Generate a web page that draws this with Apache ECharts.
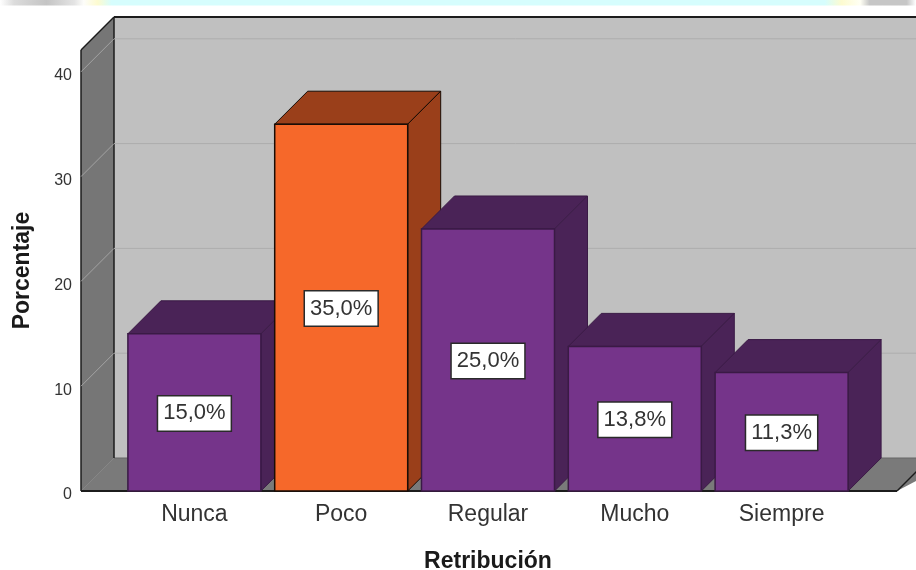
<!DOCTYPE html>
<html>
<head>
<meta charset="utf-8">
<style>html,body{margin:0;padding:0;background:#fff}#chart{width:916px;height:570px}</style>
<script src="https://cdn.jsdelivr.net/npm/echarts@6/dist/echarts.min.js"></script>
</head>
<body>
<div id="chart"></div>
<script>
// Survey result: share of answers per level of "Retribución"
const categories = ['Nunca', 'Poco', 'Regular', 'Mucho', 'Siempre'];
const percentages = [15.0, 35.0, 25.0, 13.8, 11.3];
const yTicks = [0, 10, 20, 30, 40];
const faceColors = ['#75348a', '#f6682a', '#75348a', '#75348a', '#75348a'];
const shadeColors = ['#4a2357', '#9a3f1a', '#4a2357', '#4a2357', '#4a2357'];
const edgeColors = ['#3a1a45', '#1a0d06', '#3a1a45', '#3a1a45', '#3a1a45'];

// Pseudo-3D box depth and plot frame, in pixels
const DEPTH = 33;
const GRID = { left: 121, right: 61, top: 50, bottom: 79, outerBoundsMode: 'none' };
const WALL_X = 81;
const RIGHT_X = 897;
const FONT = '"Liberation Sans", Arial, sans-serif';

const chart = echarts.init(document.getElementById('chart'), null, { renderer: 'canvas' });

function poly(points, fill, stroke, lineWidth) {
  return {
    type: 'polygon',
    shape: { points },
    style: { fill, stroke: stroke || 'none', lineWidth: lineWidth || 0, lineJoin: 'miter' }
  };
}
function line(x1, y1, x2, y2, stroke, lineWidth) {
  return {
    type: 'line',
    shape: { x1, y1, x2, y2 },
    style: { stroke, lineWidth, fill: 'none' }
  };
}

// Horizontal fade used by the page banner along the top edge
function hFade(x, y, width, height, stops) {
  return {
    type: 'rect',
    shape: { x, y, width, height },
    silent: true,
    style: {
      fill: new echarts.graphic.LinearGradient(0, 0, 1, 0, stops.map(([offset, color]) => ({ offset, color })))
    }
  };
}

// Back wall, side wall and floor
function renderRoom(params, api) {
  const yTop = api.coord([0, 42.08])[1];
  const yBase = api.coord([0, 0])[1];
  const backX = WALL_X + DEPTH;
  const far = 960;
  const ink = '#1c1c1c';
  return {
    type: 'group',
    children: [
      poly([[backX, yTop - DEPTH], [far, yTop - DEPTH], [far, yBase - DEPTH], [backX, yBase - DEPTH]], '#c0c0c0'),
      poly([[WALL_X, yTop], [backX, yTop - DEPTH], [backX, yBase - DEPTH], [WALL_X, yBase]], '#767676'),
      poly([[WALL_X, yBase], [backX, yBase - DEPTH], [far, yBase - DEPTH], [RIGHT_X, yBase]], '#7a7a7a'),
      line(backX, yBase - DEPTH, far, yBase - DEPTH, '#666', 1),
      line(WALL_X, yBase, backX, yBase - DEPTH, '#868686', 1),
      line(WALL_X, yTop, WALL_X, yBase, ink, 1.5),
      line(backX, yTop - DEPTH, backX, yBase - DEPTH, ink, 1.5),
      line(WALL_X, yTop, backX, yTop - DEPTH, ink, 1.5),
      line(backX, yTop - DEPTH, far, yTop - DEPTH, ink, 2),
      line(WALL_X, yBase, RIGHT_X, yBase, ink, 2),
      line(RIGHT_X, yBase, RIGHT_X + DEPTH, yBase - DEPTH, ink, 1.5)
    ]
  };
}

// One gridline per tick, bent across the side wall and the back wall
function renderGridline(params, api) {
  const y = api.coord([0, api.value(0)])[1];
  const backX = WALL_X + DEPTH;
  return {
    type: 'group',
    children: [
      line(WALL_X, y, backX, y - DEPTH, '#a3a3a3', 1),
      line(backX, y - DEPTH, 960, y - DEPTH, '#adadad', 1)
    ]
  };
}

// Box with front, top and side faces plus a boxed value label
function renderBox(params, api) {
  const i = api.value(0);
  const v = api.value(1);
  const [cx, yTop] = api.coord([i, v]);
  const yBase = api.coord([i, 0])[1];
  const w = api.size([1, 0])[0] * 0.906;
  const x0 = cx - w / 2;
  const x1 = cx + w / 2;
  const edge = edgeColors[i];
  return {
    type: 'group',
    children: [
      poly([[x0, yTop], [x0 + DEPTH, yTop - DEPTH], [x1 + DEPTH, yTop - DEPTH], [x1, yTop]], shadeColors[i], edge, 1),
      poly([[x1, yTop], [x1 + DEPTH, yTop - DEPTH], [x1 + DEPTH, yBase - DEPTH], [x1, yBase]], shadeColors[i], edge, 1),
      poly([[x0, yTop], [x1, yTop], [x1, yBase], [x0, yBase]], faceColors[i], edge, 1.5),
      {
        type: 'text',
        x: cx,
        y: (yTop + yBase) / 2 + 1,
        style: {
          text: v.toFixed(1).replace('.', ',') + '%',
          x: 0,
          y: 0,
          align: 'center',
          verticalAlign: 'middle',
          fill: '#333',
          font: '22px ' + FONT,
          backgroundColor: '#fff',
          borderColor: '#2a2a2a',
          borderWidth: 1.5,
          padding: [8, 5, 4, 5]
        }
      }
    ]
  };
}

const option = {
  animation: false,
  backgroundColor: '#fff',
  grid: GRID,
  graphic: [
    hFade(0, 0, 930, 5.5, [
      [0, '#ffffff'], [0.015, '#dcdcdc'], [0.05, '#c4c4c4'], [0.08, '#e4e4e4'], [0.09, '#fdfdfa'],
      [0.105, '#fdfbd0'], [0.12, '#d6fdfd'], [0.887, '#d6fdfd'], [0.905, '#fdfbd0'], [0.925, '#fffff4'],
      [0.935, '#c6c6c6'], [0.975, '#c6c6c6'], [0.985, '#ffffff'], [1, '#ffffff']
    ])
  ],
  xAxis: {
    type: 'category',
    data: categories,
    name: 'Retribución',
    nameLocation: 'middle',
    nameGap: 59,
    nameTextStyle: { fontFamily: FONT, fontSize: 23, fontWeight: 'bold', color: '#1a1a1a' },
    axisLine: { show: false },
    axisTick: { show: false },
    axisLabel: { fontFamily: FONT, fontSize: 23, color: '#333', margin: 12 }
  },
  yAxis: {
    type: 'value',
    min: 0,
    max: 42.08,
    interval: 10,
    offset: 40,
    name: 'Porcentaje',
    nameLocation: 'middle',
    nameGap: 47,
    nameTextStyle: { fontFamily: FONT, fontSize: 23, fontWeight: 'bold', color: '#1a1a1a' },
    axisLine: { show: false },
    axisTick: { show: false },
    splitLine: { show: false },
    axisLabel: {
      fontFamily: FONT,
      fontSize: 16,
      color: '#333',
      margin: 9,
      verticalAlign: 'top',
      lineHeight: 8,
      showMaxLabel: false,
      formatter: (v) => (yTicks.includes(v) ? String(v) : '')
    }
  },
  series: [
    { type: 'custom', silent: true, z: 1, data: [[0]], renderItem: renderRoom, clip: false },
    { type: 'custom', silent: true, z: 2, data: yTicks.filter((t) => t > 0).map((t) => [t]), encode: { y: 0 }, renderItem: renderGridline, clip: false },
    {
      type: 'custom',
      z: 3,
      data: percentages.map((v, i) => [i, v]),
      encode: { x: 0, y: 1 },
      renderItem: renderBox,
      clip: false
    }
  ]
};
chart.setOption(option);
</script>
</body>
</html>
